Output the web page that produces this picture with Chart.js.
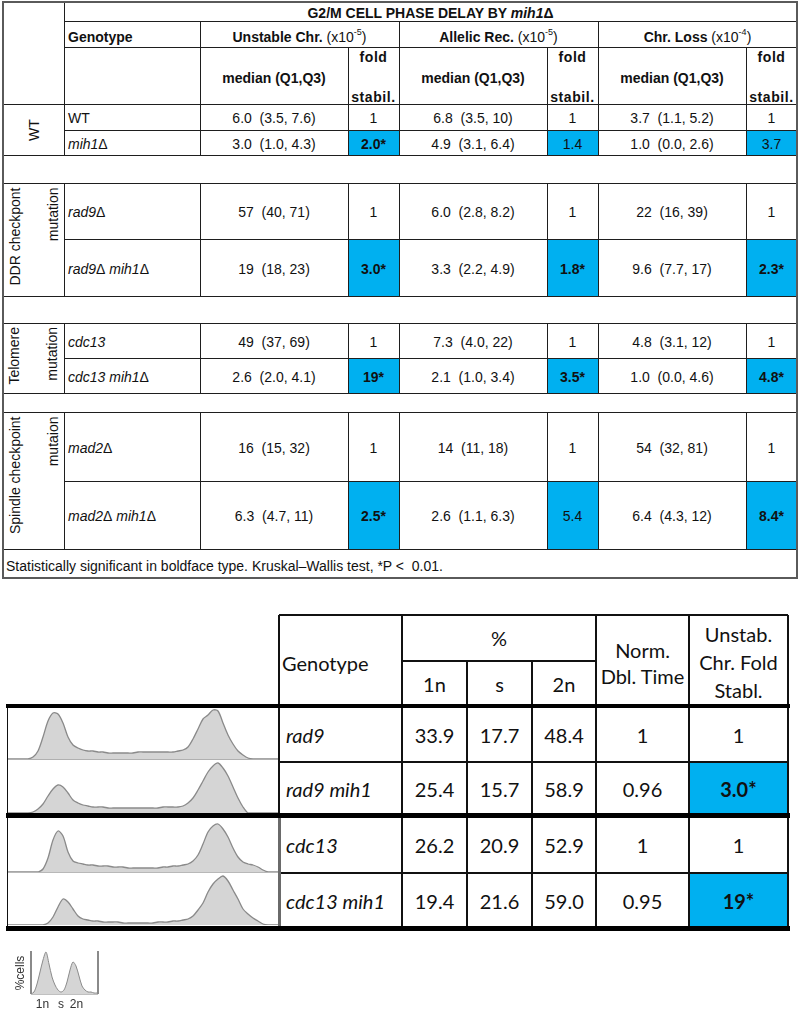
<!DOCTYPE html>
<html><head><meta charset="utf-8">
<script src="https://cdn.jsdelivr.net/npm/chart.js@4"></script>
<style>
body{margin:0;background:#fff;}
#root{position:relative;width:799px;height:1010px;overflow:hidden;font-family:"Liberation Sans",Arial,sans-serif;font-size:14px;color:#111;}
canvas{position:absolute;}
</style></head><body><div id="root"></div>
<script>
// ---------------- DATA ----------------
const titleText = "G2/M CELL PHASE DELAY BY ";
const titleGene = "mih1Δ";
const groupLabels = [["WT"], ["DDR checkpont","mutation"], ["Telomere","mutation"], ["Spindle checkpoint","mutaion"]];
const genotypes = ["WT","mih1Δ","rad9Δ","rad9Δ mih1Δ","cdc13","cdc13 mih1Δ","mad2Δ","mad2Δ mih1Δ"];
const genotypeItalic = [false,true,true,true,true,true,true,true];
const assays = ["Unstable Chr.","Allelic Rec.","Chr. Loss"];
const assayExp = ["-5","-5","-4"];
const unstableMedian = ["6.0","3.0","57","19","49","2.6","16","6.3"];
const unstableQ1     = ["3.5","1.0","40","18","37","2.0","15","4.7"];
const unstableQ3     = ["7.6","4.3","71","23","69","4.1","32","11"];
const unstableFold   = ["1","2.0*","1","3.0*","1","19*","1","2.5*"];
const allelicMedian  = ["6.8","4.9","6.0","3.3","7.3","2.1","14","2.6"];
const allelicQ1      = ["3.5","3.1","2.8","2.2","4.0","1.0","11","1.1"];
const allelicQ3      = ["10","6.4","8.2","4.9","22","3.4","18","6.3"];
const allelicFold    = ["1","1.4","1","1.8*","1","3.5*","1","5.4"];
const lossMedian     = ["3.7","1.0","22","9.6","4.8","1.0","54","6.4"];
const lossQ1         = ["1.1","0.0","16","7.7","3.1","0.0","32","4.3"];
const lossQ3         = ["5.2","2.6","39","17","12","4.6","81","12"];
const lossFold       = ["1","3.7","1","2.3*","1","4.8*","1","8.4*"];
const footnote = "Statistically significant in boldface type. Kruskal–Wallis test, *P <  0.01.";

const bGenotypes = ["rad9","rad9 mih1","cdc13","cdc13 mih1"];
const pct1n = ["33.9","25.4","26.2","19.4"];
const pctS  = ["17.7","15.7","20.9","21.6"];
const pct2n = ["48.4","58.9","52.9","59.0"];
const normDblTime = ["1","0.96","1","0.95"];
const unstabFold  = ["1","3.0*","1","19*"];

// flow cytometry histograms: DNA-content channel vs cell count
const histChannels = [0,5,10,15,20,25,30,35,40,45,50,55,60,65,70,75,80,85,90,95,100,105,110,115,120,125,130,135,140,145,150,155,160,165,170,175,180,185,190,195,200,205,210,215,220,225,230,235,240,245,250,255,260,265,270];
const histRad9 = [0,0,0,0,0,2,8,22,38,46,45,36,22,14,11,9,8,8,7,7,6,6,6,6,6,6,7,7,7,7,7,7,7,7,8,9,12,20,30,40,44,49,48,36,24,15,8,4,1,0,0,0,0,0,0];
const histRad9Mih1 = [0,0,0,0,0,1,4,9,17,24,28,26,20,13,10,8,7,6,6,6,5,5,5,5,5,5,5,5,5,5,5,6,6,6,6,7,10,15,23,32,41,47,50,45,37,26,15,6,0,0,0,0,0,0,0];
const histCdc13 = [0,0,0,0,0,0,0,3,14,32,41,36,20,11,9,8,7,7,6,6,6,5,5,5,4,4,4,4,4,4,4,5,5,6,6,7,8,11,17,28,40,46,48,43,35,24,15,10,8,7,5,2,0,0,0];
const histCdc13Mih1 = [0,0,0,0,0,0,0,0,2,8,18,26,23,16,9,6,5,4,4,3,3,3,3,2,2,2,2,2,2,2,3,3,3,4,4,5,6,9,15,22,33,41,46,49,44,35,26,16,11,7,4,1,0,0,0];
const legendChannels = [0,3,6,9,12,15,18,21,24,27,30,33,36,39,42,45,48,51,54,57,60,63,66];
const legendHist = [0,2,10,22,34,42,30,17,9,4,2,4,12,24,32,28,18,8,4,2,2,1,1];
const legendYLabel = "%cells";
const legendTicks = ["1n","s","2n"];

// ---------------- RENDER ----------------
const root = document.getElementById('root');
const BLUE = '#00b0f0';
function el(css, html){ const e=document.createElement('div'); e.style.cssText='position:absolute;'+css; if(html!==undefined) e.innerHTML=html; root.appendChild(e); return e; }
function box(x,y,w,h,bg){ el(`left:${x}px;top:${y}px;width:${w}px;height:${h}px;background:${bg}`); }
function hl(x1,x2,y,t,c){ box(x1, y-t/2, x2-x1, t, c); }
function vl(x,y1,y2,t,c){ box(x-t/2, y1, t, y2-y1, c); }
function txt(x,y,w,h,html,css){ el(`left:${x}px;top:${y}px;width:${w}px;height:${h}px;display:flex;align-items:center;justify-content:center;white-space:pre;line-height:1;${css||''}`, html); }
function rtxt(cx,y1,y2,html,align,css){ const L=y2-y1, cy=(y1+y2)/2; el(`left:${cx-L/2}px;top:${cy-9}px;width:${L}px;height:18px;line-height:18px;text-align:${align};transform:rotate(-90deg);white-space:pre;padding:0 4px;box-sizing:border-box;${css||''}`, html); }
function gene(s){ return s.replace(/Δ/g,'<span style="font-style:normal">Δ</span>'); }

// ---- top table ----
const XC = [3,64,200,348,399,547,598,746,797];
const rowTop = [104,130,183,239,323,358,412,481];
const rowBot = [130,155,239,296,358,393,481,549];
const groupY = [[104,155],[183,296],[323,393],[412,549]];
const meds = [unstableMedian, allelicMedian, lossMedian];
const q1s = [unstableQ1, allelicQ1, lossQ1];
const q3s = [unstableQ3, allelicQ3, lossQ3];
const folds = [unstableFold, allelicFold, lossFold];

// blue fills
for(let a=0;a<3;a++) for(let i=0;i<genotypes.length;i++){
  if(folds[a][i] !== "1") box(XC[3+2*a], rowTop[i], XC[4+2*a]-XC[3+2*a], rowBot[i]-rowTop[i], BLUE);
}
// title & headers
txt(XC[1], 3, XC[8]-XC[1], 19, `<b>${titleText}<i>${gene(titleGene)}</i></b>`);
txt(XC[1]+4, 25, 130, 24, '<b>Genotype</b>', 'justify-content:flex-start');
for(let a=0;a<3;a++){
  const x0=XC[2+2*a], x1=XC[4+2*a];
  txt(x0, 25, x1-x0, 24, `<b>${assays[a]}</b> (x10<span style="font-size:9px;position:relative;top:-5px">${assayExp[a]}</span>)`);
  txt(x0, 49, XC[3+2*a]-x0, 57, '<b>median (Q1,Q3)</b>');
  txt(XC[3+2*a], 50, XC[4+2*a]-XC[3+2*a], 14, '<b>fold</b>', 'letter-spacing:0.6px');
  txt(XC[3+2*a], 90, XC[4+2*a]-XC[3+2*a], 14, '<b>stabil.</b>', 'letter-spacing:0.6px');
}
// data rows
for(let i=0;i<genotypes.length;i++){
  const y=rowTop[i], h=rowBot[i]-rowTop[i];
  txt(XC[1]+4, y+1, XC[2]-XC[1]-6, h, gene(genotypes[i]), 'justify-content:flex-start;'+(genotypeItalic[i]?'font-style:italic':''));
  for(let a=0;a<3;a++){
    txt(XC[2+2*a], y+1, XC[3+2*a]-XC[2+2*a], h, `${meds[a][i]}  (${q1s[a][i]}, ${q3s[a][i]})`);
    const f=folds[a][i];
    txt(XC[3+2*a], y+1, XC[4+2*a]-XC[3+2*a], h, f.includes('*')?`<b>${f}</b>`:f);
  }
}
// group labels (rotated)
groupLabels.forEach((g,k)=>{
  const [y1,y2]=groupY[k];
  if(g.length===1) rtxt(33,y1,y2,g[0],'center');
  else { rtxt(14,y1,y2,g[0],'right'); rtxt(52,y1,y2,g[1],'right'); }
});
txt(6, 553, 780, 25, footnote, 'justify-content:flex-start');

// lines
const LC='#1e1e1e';
[[64,21],[64,47],[3,104],[64,130],[3,155],[3,183],[64,239],[3,296],[3,323],[64,358],[3,393],[3,412],[64,481],[3,549]].forEach(([x,y])=>hl(x,797,y,1,LC));
const grpSpans=[[183,296],[323,393],[412,549]];
function vcol(x,startY){ vl(x,startY,155,1,LC); grpSpans.forEach(([a,b])=>vl(x,a,b,1,LC)); }
vcol(64,2); vcol(200,21); vcol(399,21); vcol(598,21); vcol(348,47); vcol(547,47); vcol(746,47);
// outer border
const OC='#5a5a5a';
hl(2,798,2,2,OC); hl(2,798,578,2,OC); vl(3,2,578,2,OC); vl(797,2,578,2,OC);

// ---- bottom table ----
const BF = 'font-family:Lato,"Open Sans",sans-serif;font-size:20px;color:#111;';
const BX = [7,279,402,467,532,596,689,788];
const bTop=[708,762,817,873], bBot=[762,815,873,928];
// blue fills
unstabFold.forEach((f,i)=>{ if(f!=="1") box(BX[6], bTop[i], BX[7]-BX[6], bBot[i]-bTop[i], BLUE); });
// header texts
txt(BX[1]+3, 617, 120, 91, 'Genotype', BF+'justify-content:flex-start');
txt(BX[2], 615, BX[5]-BX[2], 46, '%', BF);
['1n','s','2n'].forEach((s,k)=>txt(BX[2+k], 661, BX[3+k]-BX[2+k], 45, s, BF));
txt(BX[5], 617, BX[6]-BX[5], 91, 'Norm.\nDbl. Time', BF+'line-height:26px;text-align:center');
txt(BX[6], 616, BX[7]-BX[6], 91, 'Unstab.\nChr. Fold\nStabl.', BF+'line-height:28px;text-align:center');
const bCols=[pct1n,pctS,pct2n,normDblTime,unstabFold];
bGenotypes.forEach((g,i)=>{
  const y=bTop[i], h=bBot[i]-bTop[i];
  txt(BX[1]+7, y, 115, h, g, BF+'justify-content:flex-start;font-style:italic');
  bCols.forEach((col,c)=>{
    const v=col[i];
    txt(BX[2+c], y, BX[3+c]-BX[2+c], h, v.includes('*')?`<b>${v}</b>`:v, BF);
  });
});
// histograms
function hist(x,y,w,h,channels,vals,lw){
  const c=document.createElement('canvas'); c.width=w; c.height=h;
  c.style.cssText=`left:${x}px;top:${y}px;width:${w}px;height:${h}px`;
  root.appendChild(c);
  new Chart(c,{type:'line',
    data:{datasets:[{data:channels.map((ch,i)=>({x:ch,y:vals[i]})),borderColor:'#8a8a8a',borderWidth:lw,backgroundColor:'#d5d5d5',fill:'origin',pointRadius:0,tension:0.3}]},
    options:{responsive:false,animation:false,events:[],layout:{padding:0},
      plugins:{legend:{display:false},tooltip:{enabled:false}},
      scales:{x:{type:'linear',display:false,min:0,max:w},y:{display:false,min:0,max:h}}}});
}
hist(8,708,271,51,histChannels,histRad9,1.3);
hist(8,762,271,51,histChannels,histRad9Mih1,1.3);
hist(8,817,271,55,histChannels,histCdc13,1.3);
hist(8,874,271,51,histChannels,histCdc13Mih1,1.3);
// bottom table lines
const K='#111';
hl(8,279,759.5,1,'#b0b0b0'); hl(8,279,872,1,'#b8b8b8');
hl(279,788,615,1.5,K); hl(402,596,661,1.5,K);
hl(279,788,762,1.5,K); hl(279,788,873,1.5,K);
vl(279,615,815,1.5,K); vl(279,815,928,3,'#6a6a6a');
vl(402,615,928,1.5,K); vl(467,661,928,1.5,K); vl(532,661,928,1.5,K);
vl(596,615,928,1.5,K); vl(689,615,928,1.5,K); vl(788,615,928,2,K);
vl(7.5,706,928,1.5,K);
hl(6,790,706,4.5,'#000'); hl(6,790,815,5,'#000'); hl(6,790,928.5,4.5,'#000');

// legend mini histogram
hist(31,951,67,43,legendChannels,legendHist,1);
vl(31,951,994,1.2,'#8a8a8a'); vl(98,951,994,1.2,'#8a8a8a'); hl(31,98,994,1,'#c0c0c0');
rtxt(20,952,994,legendYLabel,'center','font-size:12px;color:#333;padding:0');
const tickX=[42.5,61,76.5];
legendTicks.forEach((t,k)=>txt(tickX[k]-12, 997, 24, 14, t, 'font-size:12px;color:#333'));
</script></body></html>
